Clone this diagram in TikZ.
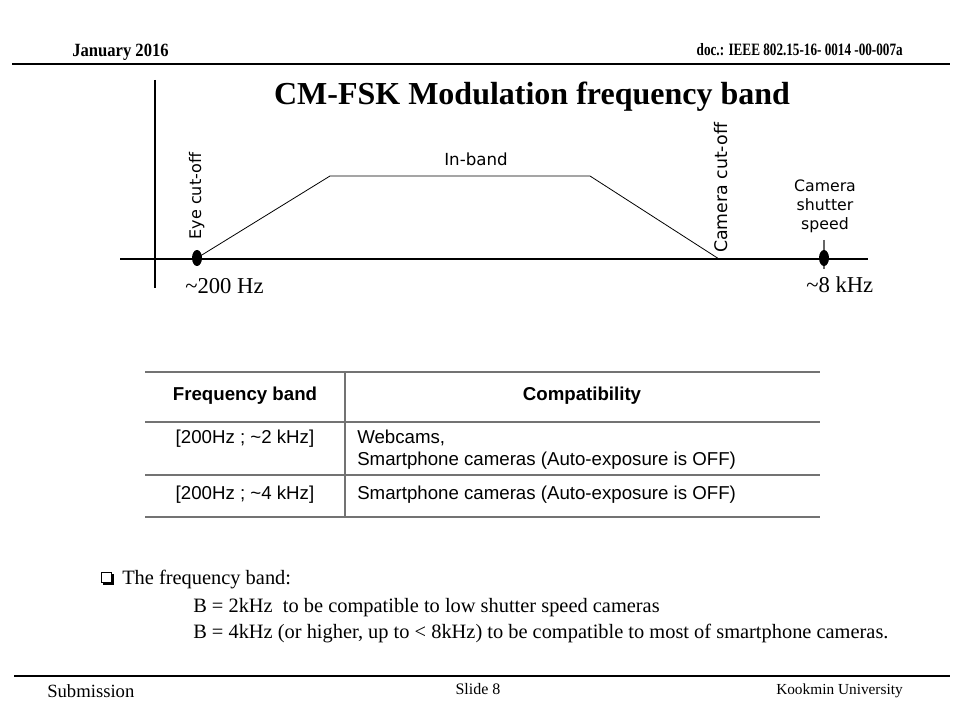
\documentclass[tikz,border=0pt]{standalone}
\usepackage{fontspec}
\usetikzlibrary{shapes.geometric}
\setmainfont{Liberation Serif}
\newfontfamily\arialf{Liberation Sans}
\newfontfamily\dvf{DejaVu Sans}
\newfontfamily\datefont[FakeStretch=0.89]{Liberation Serif}
\newfontfamily\docfont[FakeStretch=0.76]{Liberation Serif}
\begin{document}
\begin{tikzpicture}[x=0.75pt,y=-0.75pt,
  lbl/.style={inner sep=0pt},
  dvlbl/.style={inner sep=0pt,font=\dvf\fontsize{12}{14}\selectfont},
  cell/.style={inner sep=0pt,font=\arialf\fontsize{14}{16.5}\selectfont},
  hcell/.style={inner sep=0pt,font=\arialf\bfseries\fontsize{14}{16.5}\selectfont},
  body/.style={inner sep=0pt,anchor=base west,font=\fontsize{15.3}{18}\selectfont},
  freq/.style={inner sep=0pt,anchor=base west,font=\fontsize{17}{20}\selectfont},
  rule/.style={line width=0.9pt},
  axis/.style={line width=0.8pt},
  curve/.style={line width=0.6pt},
  dot/.style={ellipse,fill=black,minimum width=7.5pt,minimum height=12pt,inner sep=0pt,draw=none},
  grid/.style={draw=black!55,line width=0.8pt}]
\useasboundingbox (0,0) rectangle (960,720);
\fill[white] (0,0) rectangle (960,720);
% header
\node[lbl,anchor=base west,font=\datefont\bfseries\fontsize{14}{16}\selectfont] (date) at (72,57) {January 2016};
\node[lbl,anchor=base east,font=\docfont\bfseries\fontsize{13}{15}\selectfont] (doc) at (903,56) {doc.: IEEE 802.15-16- 0014 -00-007a};
\coordinate (hl) at (12,64); \coordinate (hr) at (950,64);
\draw[rule] (hl) -- (hr);
% title
\node[lbl,anchor=base,font=\bfseries\fontsize{24}{28}\selectfont] (title) at (532,105) {CM-FSK Modulation frequency band};
% axes
\coordinate (vt) at (155,80); \coordinate (vb) at (155,288);
\coordinate (xl) at (120,259); \coordinate (xr) at (868,259);
\draw[axis] (vt) -- (vb);
\draw[axis] (xl) -- (xr);
% trapezoid
\coordinate (p1) at (197,258); \coordinate (p2) at (330,176);
\coordinate (p3) at (590,176); \coordinate (p4) at (719,259);
\draw[curve] (p1) -- (p2) -- (p3) -- (p4);
% tick at camera shutter speed
\coordinate (tt) at (824,240); \coordinate (tb) at (824,269);
\draw[black!60,line width=1.2pt] (tt) -- (tb);
\node[dot] (d1) at (197,258) {};
\node[dot] (d2) at (824,258) {};
% labels
\node[dvlbl,font=\dvf\fontsize{12.5}{14}\selectfont,anchor=base] (inband) at (476,166) {In-band};
\node[dvlbl,rotate=90,anchor=mid] (eye) at (198,196) {Eye cut-off};
\node[dvlbl,font=\dvf\fontsize{13}{14}\selectfont,rotate=90,anchor=mid] (camcut) at (724,188) {Camera cut-off};
\node[dvlbl,font=\dvf\fontsize{11.8}{14.3}\selectfont,align=center,anchor=center] (shutter) at (825,206) {Camera\\shutter\\speed};
\node[freq] (f200) at (185,294) {\textasciitilde200 Hz};
\node[freq] (f8k) at (806,292) {\textasciitilde8 kHz};
% table
\coordinate (t1) at (145,372); \coordinate (t2) at (820,372);
\coordinate (t3) at (145,422); \coordinate (t4) at (820,422);
\coordinate (t5) at (145,475); \coordinate (t6) at (820,475);
\coordinate (t7) at (145,517); \coordinate (t8) at (820,517);
\coordinate (c1) at (345,372); \coordinate (c2) at (345,517);
\draw[grid] (t1) -- (t2);
\draw[grid] (t3) -- (t4);
\draw[grid] (t5) -- (t6);
\draw[grid] (t7) -- (t8);
\draw[grid] (c1) -- (c2);
\node[hcell,anchor=mid] (h1) at (245,397) {Frequency band};
\node[hcell,anchor=mid] (h2) at (582,397) {Compatibility};
\node[cell,anchor=mid] (r1a) at (245,440) {[200Hz ; \textasciitilde2 kHz]};
\node[cell,anchor=west,align=left] (r1b) at (357,450) {Webcams,\\Smartphone cameras (Auto-exposure is OFF)};
\node[cell,anchor=mid] (r2a) at (245,496) {[200Hz ; \textasciitilde4 kHz]};
\node[cell,anchor=mid west] (r2b) at (357,496) {Smartphone cameras (Auto-exposure is OFF)};
% bullet
\coordinate (b1) at (101,572); \coordinate (b2) at (111,582);
\draw[line width=0.7pt] (b1) rectangle (b2);
\coordinate (s1) at (103,584); \coordinate (s2) at (113,584); \coordinate (s3) at (113,574);
\draw[line width=1.6pt] (s1) -- (s2) -- (s3);
\node[body] (bl1) at (122,584) {The frequency band:};
\node[body] (bl2) at (193,612) {B = 2kHz\ \ to be compatible to low shutter speed cameras};
\node[body] (bl3) at (193,638) {B = 4kHz (or higher, up to < 8kHz) to be compatible to most of smartphone cameras.};
% footer
\coordinate (fl) at (14,676); \coordinate (fr) at (950,676);
\draw[rule] (fl) -- (fr);
\node[lbl,anchor=base west,font=\fontsize{14}{16}\selectfont] (sub) at (47,697) {Submission};
\node[lbl,anchor=base,font=\fontsize{12}{14}\selectfont] (slide) at (478,694) {Slide 8};
\node[lbl,anchor=base east,font=\fontsize{11.5}{14}\selectfont] (koo) at (903,694) {Kookmin University};
\end{tikzpicture}
\end{document}
